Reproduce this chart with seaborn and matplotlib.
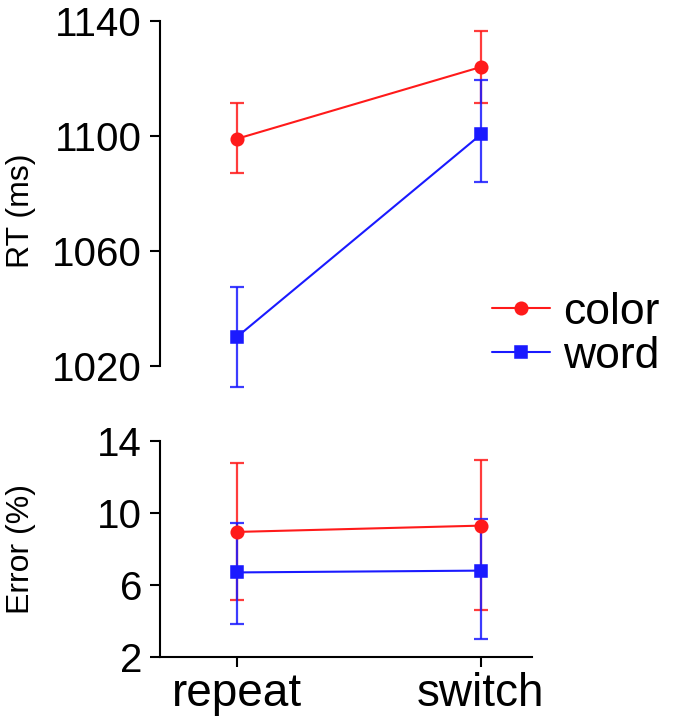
import numpy as np
import pandas as pd
import matplotlib.pyplot as plt
import seaborn as sns

# data
conditions = ["repeat", "switch"]
tasks = ["color", "word"]

rt_color = [1099.0, 1124.0]
rt_color_low = [1087.0, 1111.5]
rt_color_high = [1111.5, 1136.5]
rt_word = [1030.0, 1100.5]
rt_word_low = [1012.5, 1084.0]
rt_word_high = [1047.5, 1119.5]

err_color = [8.95, 9.3]
err_color_low = [5.15, 4.6]
err_color_high = [12.8, 12.95]
err_word = [6.7, 6.8]
err_word_low = [3.85, 3.0]
err_word_high = [9.45, 9.65]

red = "#ff1a1a"
blue = "#1a1aff"

sns.set_style("ticks")
plt.rcParams["font.family"] = ["Liberation Sans", "DejaVu Sans"]
plt.rcParams.update({
    "text.color": "black",
    "axes.labelcolor": "black",
    "axes.edgecolor": "black",
    "xtick.color": "black",
    "ytick.color": "black",
})

df = pd.DataFrame({
    "cond": conditions * 2,
    "task": [tasks[0]] * 2 + [tasks[1]] * 2,
    "rt": rt_color + rt_word,
    "err": err_color + err_word,
})

fig = plt.figure(figsize=(6.75, 7.28), dpi=100)
ax1 = fig.add_axes([0.237, 0.4505, 0.551, 0.5206])
ax2 = fig.add_axes([0.237, 0.0975, 0.551, 0.2967])


def draw_panel(ax, col, means, lows, highs):
    # error bars first so points sit on top
    for m, lo, hi, c in zip(means, lows, highs, [red, blue]):
        m = np.array(m)
        yerr = [m - np.array(lo), np.array(hi) - m]
        ax.errorbar([0, 1], m, yerr=yerr, fmt="none", ecolor=c,
                    elinewidth=1.6, capsize=5, capthick=1.6, alpha=0.85, zorder=2)
    sns.pointplot(data=df, x="cond", y=col, hue="task", hue_order=tasks,
                  palette=[red, blue], markers=["o", "s"], linestyles=["-", "-"],
                  errorbar=None, markersize=9, linewidth=1.5, ax=ax)


draw_panel(ax1, "rt", [rt_color, rt_word], [rt_color_low, rt_word_low],
           [rt_color_high, rt_word_high])
draw_panel(ax2, "err", [err_color, err_word], [err_color_low, err_word_low],
           [err_color_high, err_word_high])

# top panel
ax1.set_xlim(-0.316, 1.209)
ax1.set_ylim(1008, 1140)
ax1.set_yticks([1020, 1060, 1100, 1140])
ax1.spines["left"].set_bounds(1020, 1140)
for s in ["top", "right", "bottom"]:
    ax1.spines[s].set_visible(False)
ax1.set_xticks([])
ax1.set_xlabel("")
ax1.set_ylabel("RT (ms)", fontsize=23)

# bottom panel
ax2.set_xlim(-0.316, 1.209)
ax2.set_ylim(2, 14)
ax2.set_yticks([2, 6, 10, 14])
for s in ["top", "right"]:
    ax2.spines[s].set_visible(False)
ax2.set_xlabel("")
ax2.set_ylabel("Error (%)", fontsize=23)
ax2.get_legend().remove()

for ax in [ax1, ax2]:
    for s in ["left", "bottom"]:
        ax.spines[s].set_linewidth(1.5)
    ax.tick_params(axis="y", labelsize=29, length=7, width=1.5, pad=6)
    ax.tick_params(axis="x", labelsize=33, length=7, width=1.5, pad=4)
    ax.yaxis.set_label_coords(-0.332, 0.5)

sns.move_legend(ax1, "center left", bbox_to_anchor=(0.8925, 0.174),
                title=None, frameon=False, fontsize=32, borderpad=0,
                borderaxespad=0, handlelength=1.3, handletextpad=0.3,
                labelspacing=0.07)

fig.savefig("out.png", dpi=100)
